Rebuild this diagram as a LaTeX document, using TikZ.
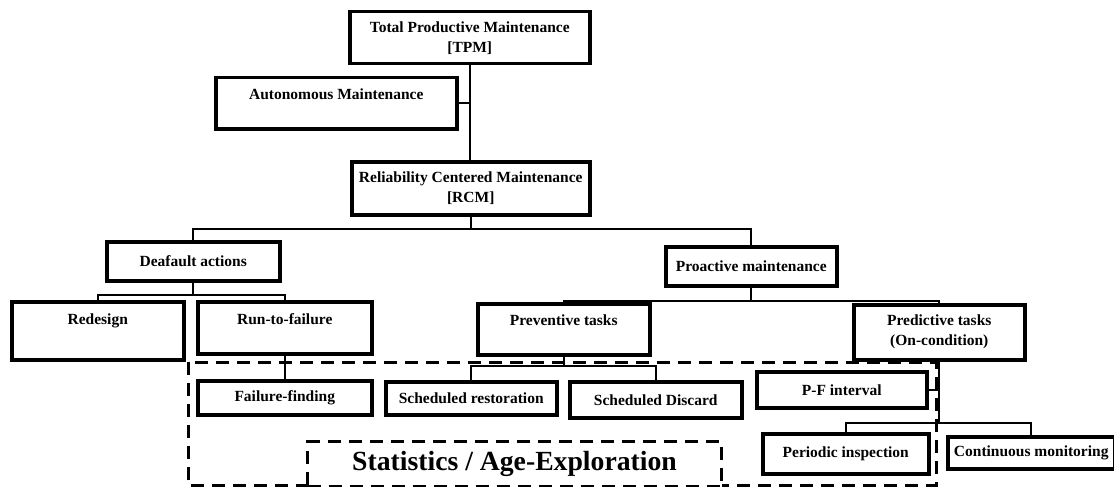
\documentclass[tikz,border=0pt]{standalone}
\usepackage{fontspec}
\setmainfont{Liberation Serif}

\begin{document}
\begin{tikzpicture}[
    x=1pt, y=-1pt,
    block/.style={draw, line width=3.5pt, fill=white, align=center, anchor=north west, inner sep=0pt,
        font=\fontsize{15.5pt}{20pt}\selectfont\bfseries},
    uptext/.style 2 args={text height=#1, text depth=#2},
    link/.style={line width=2pt},
    zone/.style={dash pattern=on 13pt off 8pt, line width=3pt}
]
\useasboundingbox (0,0) rectangle (1114,487);

% dashed area of the statistical tasks
\draw[zone] (188,362) rectangle (936,485);

\node[block, minimum width=240, minimum height=52] (tpm) at (348,10) {Total Productive Maintenance\\{[TPM]}};
\node[block, minimum width=241, minimum height=51, uptext={22pt}{29pt}] (auto) at (214,76) {Autonomous Maintenance};
\node[block, minimum width=238, minimum height=53] (rcm) at (350,160) {Reliability Centered Maintenance\\{[RCM]}};
\node[block, minimum width=173, minimum height=39] (def) at (105,240) {Deafault actions};
\node[block, minimum width=171, minimum height=39] (pro) at (664,245) {Proactive maintenance};
\node[block, minimum width=172, minimum height=58, uptext={23pt}{35pt}] (red) at (10,300) {Redesign};
\node[block, minimum width=174, minimum height=52, uptext={23pt}{29pt}] (run) at (196,300) {Run-to-failure};
\node[block, minimum width=172, minimum height=51, uptext={22pt}{29pt}] (prev) at (476,302) {Preventive tasks};
\node[block, minimum width=171, minimum height=55] (pred) at (852,303) {Predictive tasks\\(On-condition)};
\node[block, minimum width=174, minimum height=34] (ff) at (196,379) {Failure-finding};
\node[block, minimum width=171, minimum height=33] (sr) at (384,380) {Scheduled restoration};
\node[block, minimum width=172, minimum height=36] (sd) at (568,380) {Scheduled Discard};
\node[block, minimum width=170, minimum height=36] (pf) at (755,370) {P-F interval};
\node[block, minimum width=166, minimum height=40] (pi) at (761,432) {Periodic inspection};
\node[block, minimum width=167, minimum height=32] (cm) at (946,435) {Continuous monitoring};
\node[zone, draw, fill=white, anchor=north west, minimum width=414, minimum height=45, inner sep=0pt,
    font=\fontsize{27.7pt}{32pt}\selectfont\bfseries] (stat) at (306,440) {Statistics / Age-Exploration};

\draw[link] (tpm.south) -- (tpm.south |- rcm.north);
\draw[link] (auto.east) -- (auto.east -| tpm.south);
\draw[link] (rcm.south) -- ++(0,12) -| (def.north);
\draw[link] (rcm.south) -- ++(0,12) -| (pro.north);
\draw[link] (def.south) -- ++(0,12) -| (red.north);
\draw[link] (def.south) -- ++(0,12) -| (run.north);
\draw[link] (pro.south) -- ++(0,13) -| (prev.north);
\draw[link] (pro.south) -- ++(0,13) -| (pred.north);
\draw[link] (run.south) -- (ff.north);
\draw[link] (prev.south) -- ++(0,9) -| (sr.north);
\draw[link] (prev.south) -- ++(0,9) -| (sd.north);
\draw[link] (pred.south) -- ++(0,61) -| (pi.north);
\draw[link] (pred.south) -- ++(0,61) -| (cm.north);
\draw[link] (pf.east) -- (pf.east -| pred.south);
\end{tikzpicture}
\end{document}
